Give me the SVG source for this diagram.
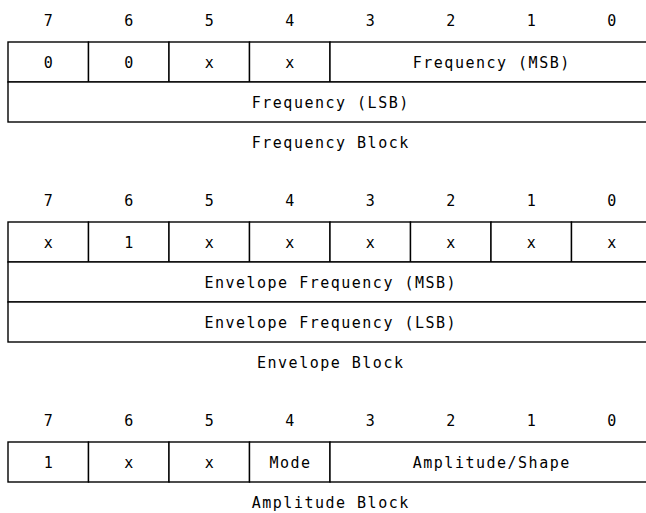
<svg xmlns="http://www.w3.org/2000/svg" width="646" height="513" viewBox="0 0 646 513">
<style>
text{font-family:"DejaVu Sans Mono","Liberation Mono",monospace;font-size:15px;letter-spacing:1.5px;fill:#000;text-anchor:middle}
.c{fill:#fff;stroke:#000;stroke-width:1.4}
</style>
<rect width="646" height="513" fill="#fff"/>
<g id="frequency-block">
  <g id="freq-bits">
    <text x="49" y="26">7</text><text x="129.5" y="26">6</text><text x="210" y="26">5</text><text x="290.5" y="26">4</text>
    <text x="371" y="26">3</text><text x="451.5" y="26">2</text><text x="532" y="26">1</text><text x="612.5" y="26">0</text>
  </g>
  <g id="freq-row1">
    <rect class="c" x="8" y="42" width="80.5" height="40"/>
    <rect class="c" x="88.5" y="42" width="80.5" height="40"/>
    <rect class="c" x="169" y="42" width="80.5" height="40"/>
    <rect class="c" x="249.5" y="42" width="80.5" height="40"/>
    <rect class="c" x="330" y="42" width="322" height="40"/>
    <text x="49" y="68">0</text><text x="129.5" y="68">0</text><text x="210" y="68">x</text><text x="290.5" y="68">x</text>
    <text x="491.75" y="68">Frequency (MSB)</text>
  </g>
  <g id="freq-row2">
    <rect class="c" x="8" y="82" width="644" height="40"/>
    <text x="330.75" y="108">Frequency (LSB)</text>
  </g>
  <text x="330.75" y="148">Frequency Block</text>
</g>
<g id="envelope-block">
  <g id="env-bits">
    <text x="49" y="206">7</text><text x="129.5" y="206">6</text><text x="210" y="206">5</text><text x="290.5" y="206">4</text>
    <text x="371" y="206">3</text><text x="451.5" y="206">2</text><text x="532" y="206">1</text><text x="612.5" y="206">0</text>
  </g>
  <g id="env-row1">
    <rect class="c" x="8" y="222" width="80.5" height="40"/>
    <rect class="c" x="88.5" y="222" width="80.5" height="40"/>
    <rect class="c" x="169" y="222" width="80.5" height="40"/>
    <rect class="c" x="249.5" y="222" width="80.5" height="40"/>
    <rect class="c" x="330" y="222" width="80.5" height="40"/>
    <rect class="c" x="410.5" y="222" width="80.5" height="40"/>
    <rect class="c" x="491" y="222" width="80.5" height="40"/>
    <rect class="c" x="571.5" y="222" width="80.5" height="40"/>
    <text x="49" y="248">x</text><text x="129.5" y="248">1</text><text x="210" y="248">x</text><text x="290.5" y="248">x</text>
    <text x="371" y="248">x</text><text x="451.5" y="248">x</text><text x="532" y="248">x</text><text x="612.5" y="248">x</text>
  </g>
  <g id="env-row2">
    <rect class="c" x="8" y="262" width="644" height="40"/>
    <text x="330.75" y="288">Envelope Frequency (MSB)</text>
  </g>
  <g id="env-row3">
    <rect class="c" x="8" y="302" width="644" height="40"/>
    <text x="330.75" y="328">Envelope Frequency (LSB)</text>
  </g>
  <text x="330.75" y="368">Envelope Block</text>
</g>
<g id="amplitude-block">
  <g id="amp-bits">
    <text x="49" y="426">7</text><text x="129.5" y="426">6</text><text x="210" y="426">5</text><text x="290.5" y="426">4</text>
    <text x="371" y="426">3</text><text x="451.5" y="426">2</text><text x="532" y="426">1</text><text x="612.5" y="426">0</text>
  </g>
  <g id="amp-row1">
    <rect class="c" x="8" y="442" width="80.5" height="40"/>
    <rect class="c" x="88.5" y="442" width="80.5" height="40"/>
    <rect class="c" x="169" y="442" width="80.5" height="40"/>
    <rect class="c" x="249.5" y="442" width="80.5" height="40"/>
    <rect class="c" x="330" y="442" width="322" height="40"/>
    <text x="49" y="468">1</text><text x="129.5" y="468">x</text><text x="210" y="468">x</text><text x="290.5" y="468">Mode</text>
    <text x="491.75" y="468">Amplitude/Shape</text>
  </g>
  <text x="330.75" y="508">Amplitude Block</text>
</g>
<g id="connectors"/>
</svg>
